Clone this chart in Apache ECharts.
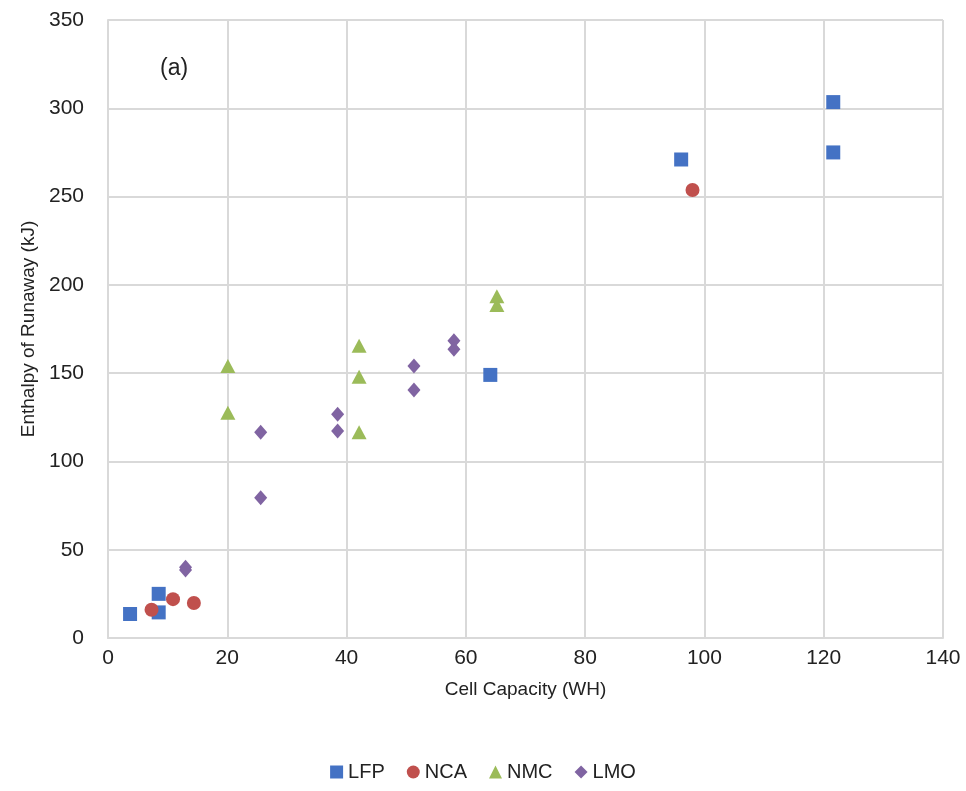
<!DOCTYPE html>
<html><head><meta charset="utf-8">
<script src="https://cdn.jsdelivr.net/npm/echarts@6/dist/echarts.min.js"></script>
<style>html,body{margin:0;padding:0;background:#fff}#c{width:966px;height:791px}</style>
</head><body><div id="c"></div>
<script>
const seriesNames = ['LFP','NCA','NMC','LMO'];
const lfp = [[3.7,13.6],[8.5,25],[8.5,14.5],[64.1,149],[96.1,271],[121.6,303.5],[121.6,275]];
const nca = [[7.3,16],[10.9,22],[14.4,19.8],[98,253.7]];
const nmc = [[20.1,154],[20.1,127.5],[42.1,165.5],[42.1,148],[42.1,116.5],[65.2,193.5],[65.2,188.6]];
const lmo = [[13,38.5],[13,40],[25.6,116.5],[25.6,79.5],[38.5,126.7],[38.5,117.2],[51.3,154],[51.3,140.4],[58,168.4],[58,163.6]];
const xTicks = {min:0,max:140,interval:20};
const yTicks = {min:0,max:350,interval:50};
const colors = ['#4472C4','#C0504D','#9BBB59','#8064A2'];
const font = 'Liberation Sans, Arial, sans-serif';
const chart = echarts.init(document.getElementById('c'));
chart.setOption({
  animation:false,
  color:colors,
  grid:{left:108,right:23,top:20,bottom:153},
  xAxis:{type:'value',min:xTicks.min,max:xTicks.max,interval:xTicks.interval,
    name:'Cell Capacity (WH)',nameLocation:'middle',nameGap:42,
    nameTextStyle:{fontSize:19,color:'#222',fontFamily:font},
    axisLine:{show:true,lineStyle:{color:'#d9d9d9',width:2}},axisTick:{show:false},
    axisLabel:{fontSize:21,color:'#222',fontFamily:font,margin:10},
    splitLine:{show:true,lineStyle:{color:'#d9d9d9',width:2}}},
  yAxis:{type:'value',min:yTicks.min,max:yTicks.max,interval:yTicks.interval,
    name:'Enthalpy of Runaway (kJ)',nameLocation:'middle',nameGap:70,
    nameTextStyle:{fontSize:19,color:'#222',fontFamily:font},
    axisLine:{show:true,lineStyle:{color:'#d9d9d9',width:2}},axisTick:{show:false},
    axisLabel:{fontSize:21,color:'#222',fontFamily:font,margin:24},
    splitLine:{show:true,lineStyle:{color:'#d9d9d9',width:2}}},
  legend:{bottom:4,left:'center',itemGap:22,itemWidth:13,itemHeight:13,
    textStyle:{fontSize:20,color:'#222',fontFamily:font},
    data:[{name:'LFP',icon:'rect'},{name:'NCA',icon:'circle'},{name:'NMC',icon:'triangle'},{name:'LMO',icon:'diamond'}]},
  graphic:[{type:'text',left:160,top:57,style:{text:'(a)',font:'23px '+font,fill:'#222'}}],
  series:[
    {name:'LFP',type:'scatter',symbol:'rect',symbolSize:[14,14],itemStyle:{opacity:1},data:lfp},
    {name:'NCA',type:'scatter',symbol:'circle',symbolSize:14,itemStyle:{opacity:1},data:nca},
    {name:'NMC',type:'scatter',symbol:'triangle',symbolSize:[15,14],itemStyle:{opacity:1},data:nmc},
    {name:'LMO',type:'scatter',symbol:'diamond',symbolSize:[13,15],itemStyle:{opacity:1},data:lmo}
  ]
});
</script></body></html>
